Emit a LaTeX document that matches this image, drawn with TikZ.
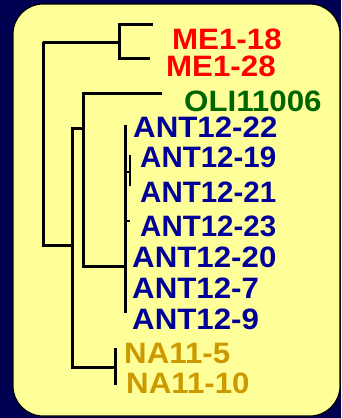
\documentclass[tikz,border=0pt]{standalone}
\usepackage{fontspec}
\setmainfont{Liberation Sans}
\newfontfamily\leaffont{Liberation Sans}
\newfontfamily\wideleaffont{Liberation Sans}[FakeStretch=1.06]
\usepackage{xcolor}
\definecolor{navybg}{RGB}{0,0,80}
\definecolor{panel}{RGB}{255,255,153}
\definecolor{mered}{RGB}{255,0,0}
\definecolor{oligreen}{RGB}{0,102,0}
\definecolor{antblue}{RGB}{0,0,153}
\definecolor{nagold}{RGB}{204,153,0}

\begin{document}
\begin{tikzpicture}[x=1pt,y=-1pt,
  branch/.style={line width=3pt},
  leaf/.style={anchor=base west, inner sep=0pt, text height=21pt, text depth=0pt,
    font=\fontsize{29.5}{31}\selectfont\leaffont\bfseries},
  wideleaf/.style={leaf, font=\fontsize{29.5}{31}\selectfont\wideleaffont\bfseries}]

% background and panel
\fill[navybg] (0,0) rectangle (341,418);
\useasboundingbox (0,0) rectangle (341,418);
\draw[fill=panel, line width=1.2pt, rounded corners=30pt] (13,4) rectangle (340,416);

% leaves
\node[wideleaf, text=mered] (me18) at (172,49) {ME1-18};
\node[wideleaf, text=mered] (me28) at (166,76) {ME1-28};
\node[wideleaf, text=oligreen] (oli) at (184,111.5) {OLI11006};
\node[wideleaf, text=antblue] (ant22) at (133,137.5) {ANT12-22};
\node[leaf, text=antblue] (ant19) at (140,167) {ANT12-19};
\node[leaf, text=antblue] (ant21) at (140,202) {ANT12-21};
\node[leaf, text=antblue] (ant23) at (140,236) {ANT12-23};
\node[wideleaf, text=antblue] (ant20) at (132,267) {ANT12-20};
\node[wideleaf, text=antblue] (ant7) at (132,298) {ANT12-7};
\node[wideleaf, text=antblue] (ant9) at (132,329) {ANT12-9};
\node[wideleaf, text=nagold] (na5) at (124,363) {NA11-5};
\node[wideleaf, text=nagold] (na10) at (126,393) {NA11-10};

% branch points
\coordinate (root) at (43,42);
\coordinate (rootlow) at (43,245);
\coordinate (me) at (119,42);
\coordinate (metop) at (119,24);
\coordinate (mebot) at (119,58);
\coordinate (metip1) at (153,24);
\coordinate (metip2) at (150,58);
\coordinate (inner) at (72,245);
\coordinate (innertop) at (72,128);
\coordinate (innerbot) at (72,367);
\coordinate (oliclade) at (83,128);
\coordinate (olitop) at (83,93);
\coordinate (olitip) at (162,93);
\coordinate (olibot) at (83,266);
\coordinate (ant) at (125,266);
\coordinate (anttop) at (125,125);
\coordinate (antbot) at (125,313);
\coordinate (sub) at (125,172);
\coordinate (subtip) at (130,172);
\coordinate (subtop) at (130,155);
\coordinate (subbot) at (130,186);
\coordinate (tick) at (125,221);
\coordinate (ticktip) at (130,221);
\coordinate (na) at (115,367);
\coordinate (natop) at (115,348);
\coordinate (nabot) at (115,385);

% tree
\draw[branch] (root) -- (me);
\draw[branch] (metip1) -- (metop) -- (mebot) -- (metip2);
\draw[branch] (root) -- (rootlow) -- (inner);
\draw[branch] (oliclade) -- (innertop) -- (innerbot) -- (na);
\draw[branch] (natop) -- (nabot);
\draw[branch] (olitip) -- (olitop) -- (olibot) -- (ant);
\draw[branch] (anttop) -- (antbot);
\draw[line width=2pt] (sub) -- (subtip);
\draw[line width=2pt] (subtop) -- (subbot);
\draw[line width=2pt] (tick) -- (ticktip);

\end{tikzpicture}
\end{document}
